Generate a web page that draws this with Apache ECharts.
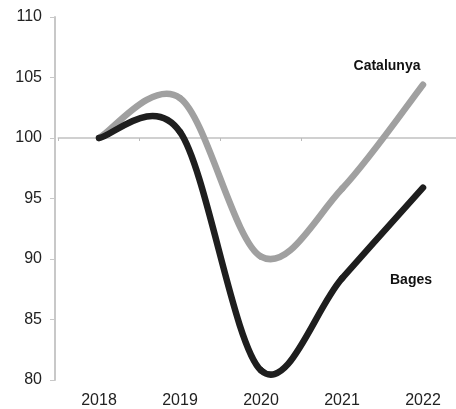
<!DOCTYPE html>
<html>
<head>
<meta charset="utf-8">
<script src="https://cdn.jsdelivr.net/npm/echarts@6/dist/echarts.min.js"></script>
<style>
html,body{margin:0;padding:0;background:#fff;}
#c{width:456px;height:409px;}
</style>
</head>
<body>
<div id="c"></div>
<script>
var years = ['2018', '2019', '2020', '2021', '2022'];
var catalunya = [100, 103.3, 90.2, 95.8, 104.4];
var bages = [100, 100.5, 80.8, 88.4, 95.9];
var yTicks = [80, 85, 90, 95, 100, 105, 110];

var font = 'Liberation Sans, Arial, sans-serif';

// Smooth curve (cardinal spline) through the data points, positioned via the axes.
function curveRenderer(values, color, labelText, labelOffset) {
  return function (params, api) {
    var i = params.dataIndex, n = values.length;
    function pt(k) { k = Math.max(0, Math.min(n - 1, k)); return api.coord([k, values[k]]); }
    if (i === n - 1) {
      var p = pt(i);
      return {
        type: 'text',
        x: p[0] + labelOffset[0],
        y: p[1] + labelOffset[1],
        style: {text: labelText, fill: '#111', fontSize: 14, fontWeight: 'bold', fontFamily: font, align: 'center', verticalAlign: 'middle'}
      };
    }
    var p0 = pt(i - 1), p1 = pt(i), p2 = pt(i + 1), p3 = pt(i + 2);
    var t = 1 / 6;
    return {
      type: 'bezierCurve',
      shape: {
        x1: p1[0], y1: p1[1], x2: p2[0], y2: p2[1],
        cpx1: p1[0] + (p2[0] - p0[0]) * t, cpy1: p1[1] + (p2[1] - p0[1]) * t,
        cpx2: p2[0] - (p3[0] - p1[0]) * t, cpy2: p2[1] - (p3[1] - p1[1]) * t
      },
      style: {stroke: color, lineWidth: 6.5, fill: null, lineCap: 'round', lineJoin: 'round'}
    };
  };
}

var chart = echarts.init(document.getElementById('c'), null, {renderer: 'canvas'});
chart.setOption({
  animation: false,
  backgroundColor: '#ffffff',
  grid: {left: 58.5, width: 405, top: 17, bottom: 29, containLabel: false, outerBoundsMode: 'none'},
  xAxis: [{
    type: 'category',
    data: years,
    boundaryGap: true,
    axisLine: {show: false},
    axisTick: {show: false},
    axisLabel: {color: '#222', fontSize: 16, fontFamily: font, margin: 13},
    splitLine: {show: false}
  }, {
    type: 'category',
    data: years,
    position: 'bottom',
    offset: -242,
    boundaryGap: true,
    axisLine: {show: true, lineStyle: {color: '#d0d0d0', width: 2}},
    axisTick: {show: true, length: 3, lineStyle: {color: '#bbb', width: 1}},
    axisLabel: {show: false},
    splitLine: {show: false}
  }],
  yAxis: {
    type: 'value',
    min: yTicks[0],
    max: yTicks[yTicks.length - 1],
    interval: 5,
    offset: 3.5,
    axisLine: {show: true, lineStyle: {color: '#c8c8c8', width: 2}},
    axisTick: {show: true, length: 5, lineStyle: {color: '#c8c8c8', width: 1}},
    axisLabel: {color: '#222', fontSize: 16, fontFamily: font, margin: 13},
    splitLine: {show: false}
  },
  series: [{
    name: 'Catalunya',
    type: 'custom',
    data: catalunya.map(function (v, i) { return [i, v]; }),
    encode: {x: 0, y: 1},
    clip: false,
    renderItem: curveRenderer(catalunya, '#a0a0a0', 'Catalunya', [-36, -18.5])
  }, {
    name: 'Bages',
    type: 'custom',
    data: bages.map(function (v, i) { return [i, v]; }),
    encode: {x: 0, y: 1},
    clip: false,
    renderItem: curveRenderer(bages, '#1e1e1e', 'Bages', [-12, 92.5])
  }]
});
</script>
</body>
</html>
